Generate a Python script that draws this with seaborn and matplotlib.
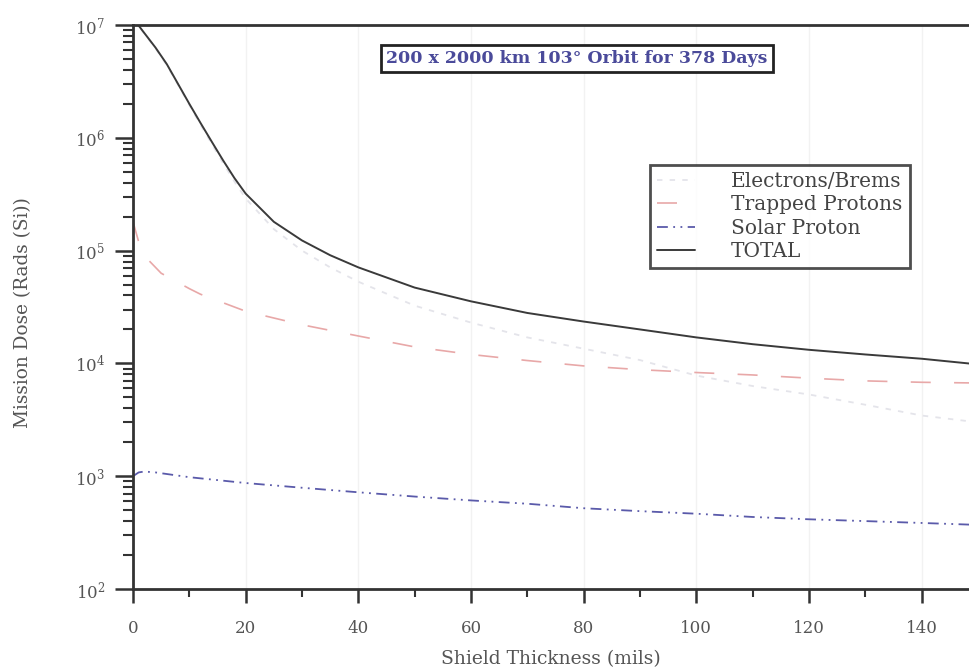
import matplotlib
matplotlib.use("Agg")
import matplotlib.pyplot as plt
import numpy as np
import pandas as pd
import seaborn as sns
from matplotlib.ticker import LogFormatterMathtext, LogLocator, MultipleLocator

# shield thickness (mils)
thickness = [0, 2, 4, 6, 8, 10, 12, 14, 16, 18, 20, 25, 30, 35, 40, 50,
             60, 70, 80, 90, 100, 110, 120, 130, 140, 150]

# dose values (rads Si)
total = [1.15e7, 8.5e6, 6.3e6, 4.5e6, 3.0e6, 2.0e6, 1.35e6, 9.2e5, 6.3e5, 4.4e5,
         3.2e5, 1.8e5, 1.23e5, 9.1e4, 7.1e4, 4.7e4, 3.55e4, 2.8e4, 2.35e4, 2.0e4,
         1.7e4, 1.48e4, 1.32e4, 1.2e4, 1.1e4, 9.8e3]
electrons = [1.13e7, 8.4e6, 6.2e6, 4.4e6, 2.95e6, 1.95e6, 1.3e6, 8.8e5, 5.95e5, 4.1e5,
             2.9e5, 1.55e5, 1.0e5, 7.1e4, 5.3e4, 3.25e4, 2.3e4, 1.7e4, 1.35e4, 1.07e4,
             7.8e3, 6.3e3, 5.3e3, 4.3e3, 3.45e3, 3.0e3]
trapped_x = [0, 1, 2, 5, 10, 12, 20, 30, 40, 50, 60, 70, 80, 90, 100, 110, 120, 130, 140, 150]
trapped = [1.8e5, 1.2e5, 9.0e4, 6.3e4, 4.6e4, 4.1e4, 2.9e4, 2.2e4, 1.75e4, 1.4e4,
           1.2e4, 1.06e4, 9.5e3, 8.8e3, 8.3e3, 7.9e3, 7.4e3, 7.0e3, 6.8e3, 6.7e3]
solar_x = [0, 1, 2, 4, 10, 20, 30, 40, 50, 60, 70, 80, 90, 100, 110, 120, 130, 140, 150]
solar = [1000, 1080, 1100, 1080, 980, 870, 790, 720, 660, 610, 570, 520, 490, 465,
         435, 415, 400, 385, 370]

labels = ["Electrons/Brems", "Trapped Protons", "Solar Proton", "TOTAL"]
title_text = "200 x 2000 km 103\u00b0 Orbit for 378 Days"

sns.set_theme(style="white")
plt.rcParams["font.family"] = ["DejaVu Serif"]
plt.rcParams["mathtext.fontset"] = "dejavuserif"

fig = plt.figure(figsize=(9.69, 6.69), dpi=100)
ax = fig.add_axes([133 / 969, 1 - 589 / 669, 1 - 133 / 969, (589 - 25) / 669])

df_main = pd.DataFrame({"x": thickness, "total": total, "electrons": electrons})
df_tp = pd.DataFrame({"x": trapped_x, "y": trapped})
df_sp = pd.DataFrame({"x": solar_x, "y": solar})

sns.lineplot(data=df_main, x="x", y="electrons", ax=ax, color="#e4e4ea", lw=1.3,
             linestyle=(0, (3, 4)), label=labels[0])
sns.lineplot(data=df_tp, x="x", y="y", ax=ax, color="#e8a8a8", lw=1.2,
             linestyle=(0, (12, 14)), label=labels[1])
sns.lineplot(data=df_sp, x="x", y="y", ax=ax, color="#5a5aaa", lw=1.3,
             linestyle=(0, (6, 3, 1, 3, 1, 3)), label=labels[2])
sns.lineplot(data=df_main, x="x", y="total", ax=ax, color="#3a3a3a", lw=1.4,
             label=labels[3])

ax.set_yscale("log")
ax.set_ylim(1e2, 1e7)
ax.set_xlim(0, 148.4)

ax.xaxis.set_major_locator(MultipleLocator(20))
ax.xaxis.set_minor_locator(MultipleLocator(10))
ax.yaxis.set_major_locator(LogLocator(base=10, numticks=10))
ax.yaxis.set_minor_locator(LogLocator(base=10, subs=np.arange(2, 10), numticks=20))
ax.yaxis.set_major_formatter(LogFormatterMathtext())

ax.tick_params(axis="y", which="major", direction="out", length=13, width=1.8,
               color="#333333", labelsize=12, labelcolor="#555555", pad=7, left=True)
ax.tick_params(axis="y", which="minor", direction="out", length=7, width=1.5,
               color="#333333", left=True)
ax.tick_params(axis="x", which="major", direction="out", length=10, width=1.8,
               color="#333333", labelsize=12, labelcolor="#555555", pad=12, bottom=True)
ax.tick_params(axis="x", which="minor", direction="out", length=5.5, width=1.5,
               color="#333333", bottom=True)

for side in ["left", "bottom", "top"]:
    ax.spines[side].set_color("#333333")
    ax.spines[side].set_linewidth(2)
ax.spines["right"].set_visible(False)

ax.grid(True, which="major", axis="x", color="#f2f2f2", lw=1)
ax.grid(False, which="minor")

ax.set_xlabel("Shield Thickness (mils)", fontsize=13.5, color="#555555")
ax.set_ylabel("Mission Dose (Rads (Si))", fontsize=13.3, color="#555555")
ax.xaxis.set_label_coords(0.5, -0.108)
ax.yaxis.set_label_coords(-0.121, 0.49)

ax.text(0.531, 0.941, title_text, transform=ax.transAxes, ha="center", va="center",
        fontsize=12.5, fontweight="bold", color="#4a4a9a",
        bbox=dict(boxstyle="square,pad=0.3", facecolor="white", edgecolor="#222222",
                  linewidth=2))

leg = ax.legend(loc="upper left", bbox_to_anchor=(0.606, 0.77), frameon=True,
                fancybox=False, fontsize=14.5, handlelength=1.9, handletextpad=1.8,
                labelspacing=0.22, borderpad=0.35)
leg.get_frame().set_edgecolor("#222222")
leg.get_frame().set_linewidth(2)
for t in leg.get_texts():
    t.set_color("#444444")

fig.savefig("out.png", dpi=100)
